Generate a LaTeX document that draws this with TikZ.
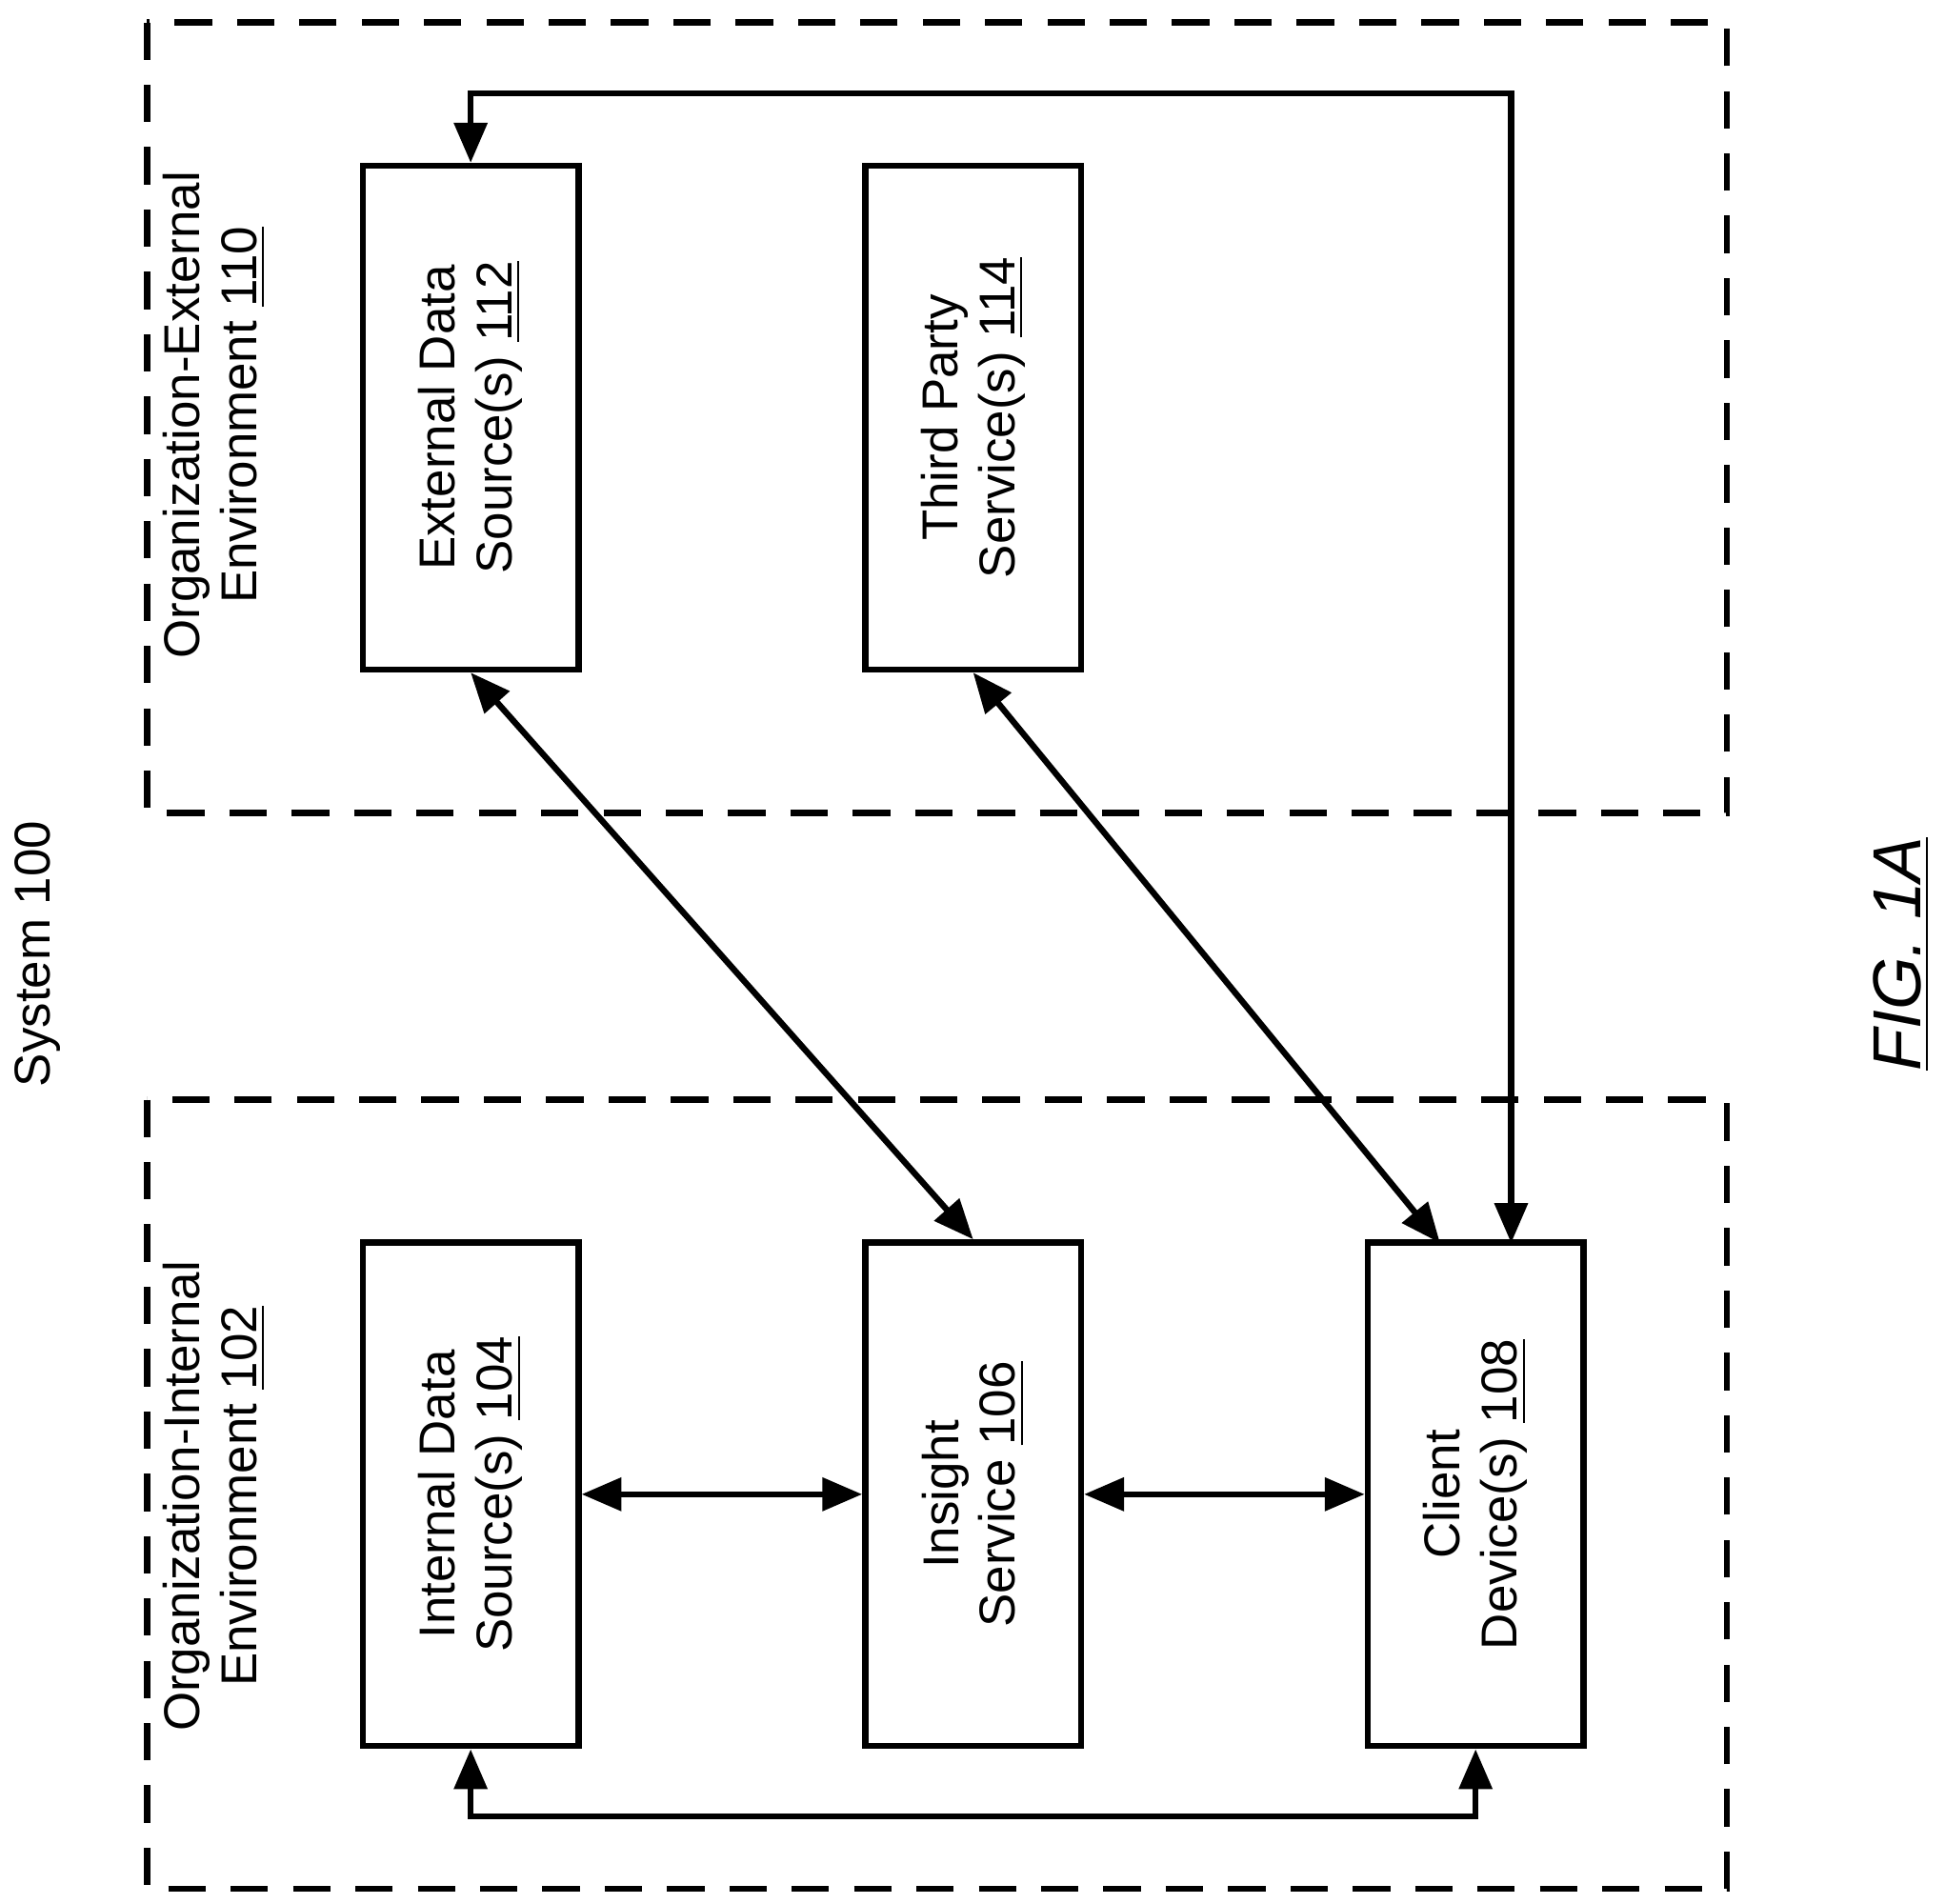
\documentclass[tikz,border=0pt]{standalone}
\usepackage{fontspec}
\setmainfont{Liberation Sans}
\usetikzlibrary{arrows.meta,calc}
\begin{document}
\begin{tikzpicture}[
	box/.style={draw,line width=1.4pt,rotate=90,minimum width=4.04cm,minimum height=1.73cm,align=center,font=\fontsize{11.5}{13}\selectfont},
	env/.style={draw,line width=1.4pt,dash pattern=on 0.3cm off 0.2cm},
	lbl/.style={rotate=90,align=center,font=\fontsize{11.5}{13}\selectfont},
	link/.style={line width=1.4pt,{Triangle[length=0.32cm,width=0.26cm]}-{Triangle[length=0.32cm,width=0.26cm]}}
	]
	\useasboundingbox (0,0) rectangle (15.6,-15.27);
	%Environments
	\draw[env] (1.18,-0.18) rectangle (13.85,-6.52);
	\draw[env] (1.18,-8.82) rectangle (13.85,-15.15);
	\node[lbl] (sys) at (0.3,-7.65) {System 100};
	\node[lbl] (extlbl) at (1.72,-3.33) {Organization-External\\Environment \underline{110}};
	\node[lbl] (intlbl) at (1.72,-12.0) {Organization-Internal\\Environment \underline{102}};
	\node[lbl,font=\fontsize{15.5}{18}\selectfont\itshape] (fig) at (15.25,-7.65) {\underline{FIG. 1A}};
	%Boxes
	\node[box] (112) at (3.775,-3.35) {External Data\\Source(s) \underline{112}};
	\node[box] (114) at (7.805,-3.35) {Third Party\\Service(s) \underline{114}};
	\node[box] (104) at (3.775,-11.985) {Internal Data\\Source(s) \underline{104}};
	\node[box] (106) at (7.805,-11.985) {Insight\\Service \underline{106}};
	\node[box] (108) at (11.835,-11.985) {Client\\Device(s) \underline{108}};
	%Connectors
	\coordinate (top) at (12.12,-0.75);
	\coordinate (bot) at (8,-14.57);
	\coordinate (c108a) at (12.12,-9.97);
	\coordinate (c108b) at (11.55,-9.97);
	\draw[link] (104) -- (106);
	\draw[link] (106) -- (108);
	\draw[link] (104.west) |- (bot) -| (108.west);
	\draw[link] (112.east) |- (top) -- (c108a);
	\draw[link] (112.west) -- (106.east);
	\draw[link] (114.west) -- (c108b);
\end{tikzpicture}
\end{document}
